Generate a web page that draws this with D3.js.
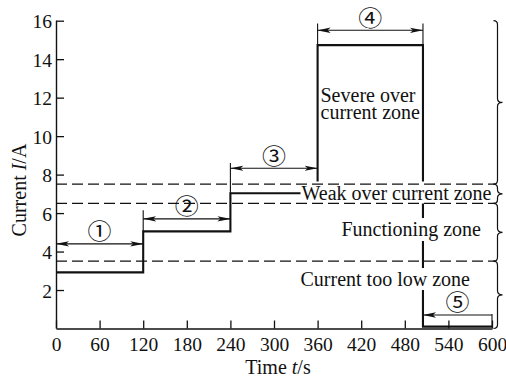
<!DOCTYPE html>
<html>
<head>
<meta charset="utf-8">
<script src="https://cdn.jsdelivr.net/npm/d3@7"></script>
<style>
  body { margin: 0; background: #fff; }
  text { font-family: "Liberation Serif", "Times New Roman", serif; fill: #111; }
</style>
</head>
<body>
<svg id="chart" width="506" height="378"></svg>
<script>
// Current step test: each stage held for a period, then the current is cut off.
const stepTimes    = [0, 120, 240, 360, 505, 600];
const stepCurrents = [2.92, 5.05, 7.03, 14.73, 0.1, 0.1];

// Zone limits (A); the inner limits are drawn as dashed lines.
const zoneEdges    = [16, 7.5, 6.5, 3.5, 0];
const dashedLevels = [7.5, 6.5, 3.5];

const xTicks = [0, 60, 120, 180, 240, 300, 360, 420, 480, 540, 600];
const yTicks = [2, 4, 6, 8, 10, 12, 14, 16];

// Stage spans marked with arrows and circled numbers.
const spanLabels = ["①", "②", "③", "④", "⑤"];
const spanStart  = [0, 120, 240, 360, 505];
const spanEnd    = [120, 240, 360, 505, 600];
const spanLevel  = [4.4, 5.7, 8.33, 15.5, 0.7];
const spanHeads  = ["both", "both", "both", "both", "start"];

// Thin extension lines that carry the span ends above the curve.
const extTime = [120, 240, 360, 505, 600];
const extFrom = [5.05, 7.03, 14.73, 14.73, 0.1];
const extTo   = [6.15, 8.6, 15.86, 15.86, 0.75];

const svg = d3.select("#chart");
const x = d3.scaleLinear().domain([0, 600]).range([56, 492]);
const y = d3.scaleLinear().domain([0, 16]).range([328.5, 20.7]);

const defs = svg.append("defs");
function arrowMarker(id, orient) {
  defs.append("marker")
    .attr("id", id)
    .attr("markerUnits", "userSpaceOnUse")
    .attr("viewBox", "0 -3 13 6")
    .attr("refX", 13).attr("refY", 0)
    .attr("markerWidth", 13).attr("markerHeight", 6)
    .attr("orient", orient)
    .append("path")
    .attr("d", "M0,-2.7 L13,0 L0,2.7 L3,0 Z")
    .attr("fill", "#111");
}
arrowMarker("head-end", "auto");
arrowMarker("head-start", "auto-start-reverse");

const gData = svg.append("g");
const gBg = svg.append("g");
const gDash = svg.append("g");
const gAxes = svg.append("g");
const gNotes = svg.append("g");

// Axes with inward ticks
const xAxis = d3.axisBottom(x).tickValues(xTicks).tickSizeInner(-8).tickSizeOuter(0).tickPadding(12);
const yAxis = d3.axisLeft(y).tickValues(yTicks).tickSizeInner(-8).tickSizeOuter(0).tickPadding(4);

const gx = gAxes.append("g").attr("transform", `translate(0,${y(0)})`).call(xAxis);
const gy = gAxes.append("g").attr("transform", `translate(${x(0)},0)`).call(yAxis);
[gx, gy].forEach(g => {
  g.select(".domain").attr("stroke", "#111").attr("stroke-width", 1.4);
  g.selectAll(".tick line").attr("stroke", "#111").attr("stroke-width", 1.3);
  g.selectAll(".tick text")
    .attr("font-family", "Liberation Serif")
    .attr("font-size", 19.5)
    .attr("fill", "#111");
});
gy.select(".domain").attr("d", `M0.5,${y(0)}V${y(16)}`);
gy.selectAll(".tick text").attr("dy", "0.36em");
gx.selectAll(".tick text").attr("dy", "0.52em");

// Step curve
const pts = stepTimes.map((t, i) => [t, stepCurrents[i]]);
gData.append("path")
  .datum(pts)
  .attr("d", d3.line().x(d => x(d[0])).y(d => y(d[1])).curve(d3.curveStepAfter))
  .attr("fill", "none")
  .attr("stroke", "#111")
  .attr("stroke-width", 2.1);

// Zone limits
gDash.selectAll("line.lim")
  .data(dashedLevels)
  .join("line")
  .attr("class", "lim")
  .attr("x1", x(0)).attr("x2", 495)
  .attr("y1", d => y(d)).attr("y2", d => y(d))
  .attr("stroke", "#111")
  .attr("stroke-width", 1.2)
  .attr("stroke-dasharray", "11,5");

// Braces grouping each zone
const braceX = 497.5;
function bracePath(y1, y2) {
  const ym = (y1 + y2) / 2, c = Math.min(4, (y2 - y1) / 4);
  return `M${braceX - 4},${y1} Q${braceX},${y1} ${braceX},${y1 + c}` +
         ` L${braceX},${ym - c} Q${braceX},${ym} ${braceX + 5},${ym}` +
         ` Q${braceX},${ym} ${braceX},${ym + c}` +
         ` L${braceX},${y2 - c} Q${braceX},${y2} ${braceX - 4},${y2}`;
}
gNotes.selectAll("path.brace")
  .data(d3.pairs(zoneEdges))
  .join("path")
  .attr("class", "brace")
  .attr("d", d => bracePath(y(d[0]), y(d[1])))
  .attr("fill", "none")
  .attr("stroke", "#111")
  .attr("stroke-width", 1.2);

// Extension lines
gNotes.selectAll("line.ext")
  .data(extTime.map((t, i) => ({t, a: extFrom[i], b: extTo[i]})))
  .join("line")
  .attr("class", "ext")
  .attr("x1", d => x(d.t)).attr("x2", d => x(d.t))
  .attr("y1", d => y(d.a)).attr("y2", d => y(d.b))
  .attr("stroke", "#111").attr("stroke-width", 1.1);

// Span arrows
const spans = spanLabels.map((l, i) => ({
  label: l, t0: spanStart[i], t1: spanEnd[i], v: spanLevel[i], heads: spanHeads[i]
}));
gNotes.selectAll("line.span")
  .data(spans)
  .join("line")
  .attr("class", "span")
  .attr("x1", d => x(d.t0)).attr("x2", d => x(d.t1))
  .attr("y1", d => y(d.v)).attr("y2", d => y(d.v))
  .attr("stroke", "#111").attr("stroke-width", 1.1)
  .attr("marker-start", "url(#head-start)")
  .attr("marker-end", d => d.heads === "both" ? "url(#head-end)" : null);

gNotes.selectAll("text.num")
  .data(spans)
  .join("text")
  .attr("class", "num")
  .attr("transform", d => `translate(${x((d.t0 + d.t1) / 2)},${y(d.v) - 12.5}) scale(1,0.9)`)
  .attr("dy", "0.36em")
  .attr("text-anchor", "middle")
  .style("font-family", '"Noto Sans CJK JP", "DejaVu Sans", sans-serif')
  .attr("font-size", 24)
  .text(d => d.label);

// Zone names (knock out the curve behind them)
function zoneText(lines, tx, ty, knock) {
  const t = gNotes.append("text").attr("font-size", 20);
  lines.forEach((s, i) => {
    t.append("tspan").attr("x", tx).attr("y", ty + i * 17.8).text(s);
  });
  if (knock) {
    const b = t.node().getBBox();
    gBg.append("rect")
      .attr("x", b.x - 1).attr("y", b.y)
      .attr("width", b.width + 2).attr("height", b.height)
      .attr("fill", "#fff");
  }
}
zoneText(["Severe over", "current zone"], 320.5, 101.5, false);
zoneText(["Weak over current zone"], 301.5, 199.5, true);
zoneText(["Functioning zone"], 341.5, 236, true);
zoneText(["Current too low zone"], 300.5, 286, true);

// Axis titles
const xt = svg.append("text")
  .attr("x", 278).attr("y", 373.5)
  .attr("text-anchor", "middle")
  .attr("font-size", 20);
xt.append("tspan").text("Time ");
xt.append("tspan").attr("font-style", "italic").text("t");
xt.append("tspan").text("/s");

const yt = svg.append("text")
  .attr("transform", "translate(26,190) rotate(-90)")
  .attr("text-anchor", "middle")
  .attr("font-size", 20);
yt.append("tspan").text("Current ");
yt.append("tspan").attr("font-style", "italic").text("I");
yt.append("tspan").text("/A");
</script>
</body>
</html>
